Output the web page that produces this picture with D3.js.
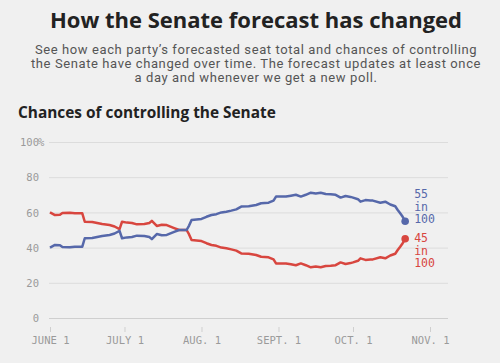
<!DOCTYPE html>
<html>
<head>
<meta charset="utf-8">
<script src="https://cdn.jsdelivr.net/npm/d3@7"></script>
<style>
  body { margin: 0; background: #f0f0f0; }
  svg { display: block; font-family: "Open Sans", Roboto, sans-serif; }
  .axis text { font-family: "DejaVu Sans Mono", monospace; fill: #9a9a9a; }
  .axis .domain { display: none; }
</style>
</head>
<body>
<svg width="500" height="363"></svg>
<script>
var width = 500,
    height = 363;

// chart data
var dates = ["2022-06-01","2022-06-03","2022-06-05","2022-06-06","2022-06-09","2022-06-11","2022-06-14",
  "2022-06-15","2022-06-18","2022-06-20","2022-06-22","2022-06-25","2022-06-27","2022-06-29",
  "2022-06-30","2022-07-02","2022-07-04","2022-07-06","2022-07-09","2022-07-11","2022-07-12",
  "2022-07-14","2022-07-16","2022-07-18","2022-07-21","2022-07-23","2022-07-26","2022-07-27",
  "2022-07-28","2022-07-30","2022-08-01","2022-08-03","2022-08-05","2022-08-07","2022-08-09",
  "2022-08-11","2022-08-13","2022-08-15","2022-08-17","2022-08-20","2022-08-23","2022-08-25",
  "2022-08-28","2022-08-30","2022-08-31","2022-09-04","2022-09-06","2022-09-08","2022-09-10",
  "2022-09-12","2022-09-14","2022-09-16","2022-09-18","2022-09-20","2022-09-22","2022-09-24",
  "2022-09-26","2022-09-28","2022-09-30","2022-10-01","2022-10-03","2022-10-04","2022-10-06",
  "2022-10-08","2022-10-09","2022-10-12","2022-10-14","2022-10-16","2022-10-18","2022-10-19",
  "2022-10-20","2022-10-21","2022-10-22"];

var bluePct = [40.0,41.5,41.3,40.3,40.2,40.5,40.5,
  45.3,45.4,46.0,46.6,47.2,48.0,49.5,
  45.3,45.8,46.0,46.8,46.6,46.0,44.8,
  47.7,47.0,47.2,48.9,50.0,50.0,52.5,
  55.7,56.0,56.3,57.5,58.5,59.0,60.0,
  60.4,61.0,61.7,63.3,63.5,64.2,65.2,
  65.5,66.7,69.0,69.0,69.5,70.0,69.0,
  70.0,71.2,70.8,71.2,70.5,70.3,70.0,
  68.4,69.3,68.8,68.4,67.5,66.1,67.0,
  66.8,66.7,65.5,66.1,64.5,63.5,61.4,
  59.5,57.5,55.0];

var redPct = [60.0,58.5,58.7,59.7,59.8,59.5,59.5,
  54.7,54.6,54.0,53.4,52.8,52.0,50.5,
  54.7,54.2,54.0,53.2,53.4,54.0,55.2,
  52.3,53.0,52.8,51.1,50.0,50.0,47.5,
  44.3,44.0,43.7,42.5,41.5,41.0,40.0,
  39.6,39.0,38.3,36.7,36.5,35.8,34.8,
  34.5,33.3,31.0,31.0,30.5,30.0,31.0,
  30.0,28.8,29.2,28.8,29.5,29.7,30.0,
  31.6,30.7,31.2,31.6,32.5,33.9,33.0,
  33.2,33.3,34.5,33.9,35.5,36.5,38.6,
  40.5,42.5,45.0];

var yTicks = [0, 20, 40, 60, 80, 100];
var xTickDates = ["2022-06-01","2022-07-01","2022-08-01","2022-09-01","2022-10-01","2022-11-01"];
var xTickLabels = ["JUNE 1","JULY 1","AUG. 1","SEPT. 1","OCT. 1","NOV. 1"];

var subtitle = ["See how each party\u2019s forecasted seat total and chances of controlling",
  "the Senate have changed over time. The forecast updates at least once",
  "a day and whenever we get a new poll."];

var blue = "#5668aa",
    red = "#d8463f";

var parse = d3.timeParse("%Y-%m-%d");
var blueData = dates.map((d, i) => ({date: parse(d), value: bluePct[i]}));
var redData = dates.map((d, i) => ({date: parse(d), value: redPct[i]}));

var svg = d3.select("svg");

// headline + intro
svg.append("text")
    .attr("x", 256).attr("y", 28)
    .attr("text-anchor", "middle")
    .attr("font-size", 22).attr("font-weight", 700)
    .attr("fill", "#222")
    .text("How the Senate forecast has changed");

svg.append("g").selectAll("text")
    .data(subtitle)
  .enter().append("text")
    .attr("x", 256)
    .attr("y", (d, i) => 54 + i * 14)
    .attr("text-anchor", "middle")
    .attr("font-family", "Roboto, sans-serif")
    .attr("font-size", 13)
    .attr("letter-spacing", 0.6)
    .attr("fill", "#555")
    .text(d => d);

svg.append("text")
    .attr("x", 18).attr("y", 118)
    .attr("font-size", 15.4).attr("font-weight", 700)
    .attr("fill", "#222")
    .text("Chances of controlling the Senate");

// scales
var x = d3.scaleTime()
    .domain([parse(xTickDates[0]), parse(xTickDates[5])])
    .range([50, 430]);

var y = d3.scaleLinear()
    .domain([0, 100])
    .range([318, 142]);

// y axis doubles as gridlines
var yAxis = svg.append("g")
    .attr("class", "axis")
    .attr("transform", "translate(448,0)")
    .call(d3.axisLeft(y).tickValues(yTicks).tickSize(399).tickPadding(10));

yAxis.selectAll(".tick line")
    .attr("stroke", d => d === 0 ? "#cfcfcf" : "#dcdcdc");
yAxis.selectAll(".tick text")
    .attr("font-size", 10.5)
    .attr("dy", "0.35em");
yAxis.selectAll(".tick").filter(d => d === 100)
  .append("text")
    .attr("x", -410).attr("dy", "0.35em")
    .attr("text-anchor", "start")
    .attr("font-size", 10.5)
    .text("%");

// x axis
var xAxis = svg.append("g")
    .attr("class", "axis")
    .attr("transform", "translate(0,327)")
    .call(d3.axisBottom(x)
      .tickValues(xTickDates.map(parse))
      .tickFormat((d, i) => xTickLabels[i])
      .tickSize(5).tickPadding(5));

xAxis.selectAll(".tick line").attr("stroke", "#cfcfcf");
xAxis.selectAll(".tick text").attr("font-size", 10.5);

// lines
var line = d3.line()
    .x(d => x(d.date))
    .y(d => y(d.value));

[[redData, red], [blueData, blue]].forEach(function(s) {
  svg.append("path")
      .attr("fill", "none")
      .attr("stroke", s[1])
      .attr("stroke-width", 2.5)
      .attr("stroke-linejoin", "round")
      .attr("d", line(s[0]));

  var last = s[0][s[0].length - 1];
  svg.append("circle")
      .attr("cx", x(last.date))
      .attr("cy", y(last.value))
      .attr("r", 3.8)
      .attr("fill", s[1]);
});

// end labels
function endLabel(data, color, firstBaseline) {
  var last = data[data.length - 1];
  svg.append("g").selectAll("text")
      .data([String(Math.round(last.value)), "in", "100"])
    .enter().append("text")
      .attr("x", x(last.date) + 9)
      .attr("y", (d, i) => firstBaseline + i * 12.5)
      .attr("font-family", "'DejaVu Sans Mono', monospace")
      .attr("font-size", 11.5)
      .attr("fill", color)
      .text(d => d);
}
endLabel(blueData, blue, y(55) - 23);
endLabel(redData, red, y(45) + 3.5);
</script>
</body>
</html>
